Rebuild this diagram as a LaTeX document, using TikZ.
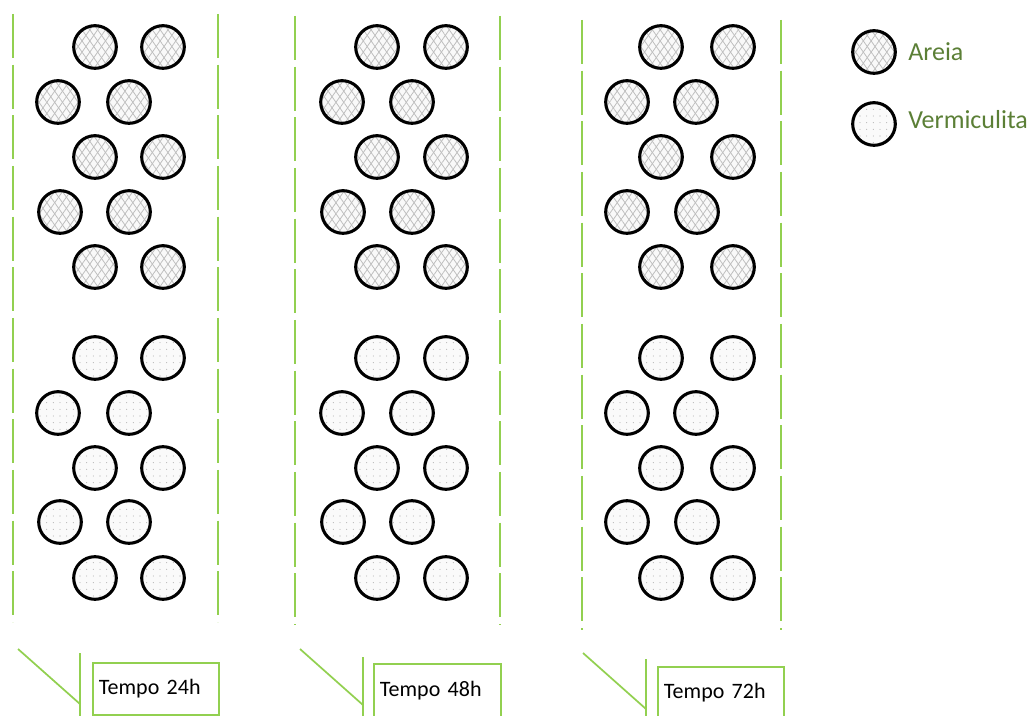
\documentclass[tikz,border=0pt]{standalone}
\usepackage{fontspec}
\setmainfont{Carlito}
\usetikzlibrary{patterns.meta}
\definecolor{lgreen}{HTML}{92D050}
\definecolor{ogreen}{HTML}{5B7F36}
\tikzset{
  grain/.style={circle, inner sep=0pt, minimum size=32pt, draw=black, line width=2.3pt},
  areia/.style={grain,
    preaction={fill=gray!5},
    preaction={pattern={Lines[angle=55,distance=4.8pt,line width=0.6pt]}, pattern color=gray!50},
    preaction={pattern={Lines[angle=-55,distance=4.8pt,line width=0.6pt]}, pattern color=gray!50}},
  verm/.style={grain,
    preaction={fill=gray!4},
    preaction={pattern={Dots[distance=5pt,radius=0.4pt]}, pattern color=gray!65}},
  wall/.style={draw=lgreen, line width=1.4pt, dash pattern=on 33pt off 5pt},
  callline/.style={draw=lgreen, line width=1.3pt},
  callbox/.style={draw=lgreen, line width=1.4pt, inner sep=0pt, font=\fontsize{16.5}{18}\selectfont, text=black},
  legtext/.style={anchor=west, inner sep=0pt, text=ogreen, font=\fontsize{19.5}{22}\selectfont}
}
\begin{document}
\begin{tikzpicture}[x=0.75pt,y=-0.75pt]
\useasboundingbox (0,0) rectangle (1036,716);
% walls
\foreach \i/\xl/\xr/\ya/\yb in {1/13/218/14/622, 2/295/500/16/625, 3/582/781/20/630}{
  \coordinate (wlt\i) at (\xl,\ya); \coordinate (wlb\i) at (\xl,\yb);
  \coordinate (wrt\i) at (\xr,\ya); \coordinate (wrb\i) at (\xr,\yb);
  \draw[wall] (wlt\i) -- (wlb\i);
  \draw[wall] (wrt\i) -- (wrb\i);
}
% grains
\foreach \p/\xa/\xb/\xc/\xd/\xe/\xf in {1/95/163/58/129/60/129, 2/377/446/342/412/343/412, 3/661/733/627/696/627/697}{
  \node[areia] (a\p-1) at (\xa,47) {};
  \node[areia] (a\p-2) at (\xb,47) {};
  \node[areia] (a\p-3) at (\xc,102) {};
  \node[areia] (a\p-4) at (\xd,102) {};
  \node[areia] (a\p-5) at (\xa,157) {};
  \node[areia] (a\p-6) at (\xb,157) {};
  \node[areia] (a\p-7) at (\xe,212) {};
  \node[areia] (a\p-8) at (\xf,212) {};
  \node[areia] (a\p-9) at (\xa,267) {};
  \node[areia] (a\p-10) at (\xb,267) {};
  \node[verm] (v\p-1) at (\xa,358) {};
  \node[verm] (v\p-2) at (\xb,358) {};
  \node[verm] (v\p-3) at (\xc,413) {};
  \node[verm] (v\p-4) at (\xd,413) {};
  \node[verm] (v\p-5) at (\xa,468) {};
  \node[verm] (v\p-6) at (\xb,468) {};
  \node[verm] (v\p-7) at (\xe,522) {};
  \node[verm] (v\p-8) at (\xf,522) {};
  \node[verm] (v\p-9) at (\xa,578) {};
  \node[verm] (v\p-10) at (\xb,578) {};
}
% callouts
\foreach \i/\dx/\dy/\bx/\by/\bt/\ex/\ey/\fx/\fy/\txt in {
  1/18/649/80/704/653/92/662/218/714/Tempo 24h,
  2/300/649/363/705/657/373/663/500/716/Tempo 48h,
  3/583/653/646/709/659/657/666/783/718/Tempo 72h}{
  \coordinate (ds\i) at (\dx,\dy);
  \coordinate (de\i) at (\bx,\by);
  \coordinate (bt\i) at (\bx,\bt);
  \coordinate (bb\i) at (\bx,716);
  \draw[callline] (ds\i) -- (de\i);
  \draw[callline] (bt\i) -- (bb\i);
  \node[callbox, minimum width={(\fx-\ex)*0.75pt}, minimum height={(\fy-\ey)*0.75pt}, text width={(\fx-\ex-12)*0.75pt}, align=left, anchor=north west] (t\i) at (\ex,\ey) {\txt};
}
% legend
\node[areia] (la) at (874,52) {};
\node[verm] (lv) at (874,124) {};
\node[legtext] (lat) at (908,52) {Areia};
\node[legtext] (lvt) at (908,120) {Vermiculita};
\end{tikzpicture}
\end{document}
